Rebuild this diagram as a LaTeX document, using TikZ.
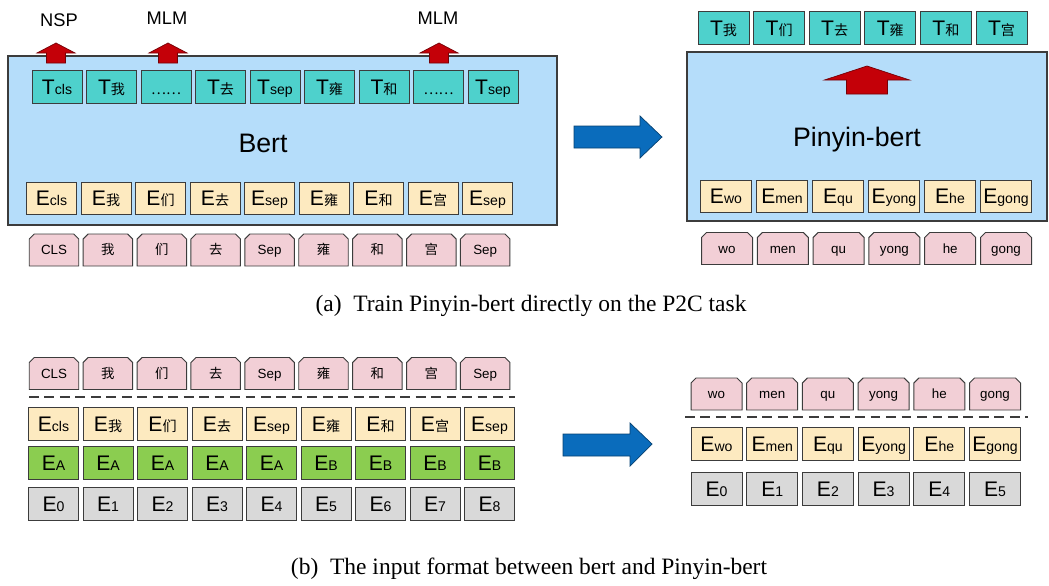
\documentclass[tikz,border=0pt]{standalone}
\usepackage{fontspec}
\setmainfont{Liberation Serif}
\setsansfont{Liberation Sans}
\newfontfamily\cjk{Noto Sans CJK SC}

\definecolor{bertblue}{RGB}{181,221,250}
\definecolor{tealcell}{RGB}{78,209,204}
\definecolor{creamcell}{RGB}{253,234,192}
\definecolor{pinkcell}{RGB}{242,207,214}
\definecolor{greencell}{RGB}{139,205,80}
\definecolor{graycell}{RGB}{217,217,217}
\definecolor{arrowred}{RGB}{196,0,8}
\definecolor{arrowblue}{RGB}{10,108,188}
\definecolor{edge}{RGB}{60,60,60}

\newcommand{\emb}[2]{{\fontsize{15}{15}\selectfont #1}{\fontsize{10}{10}\selectfont #2}}

\begin{document}
\begin{tikzpicture}[x=0.025cm, y=-0.025cm,
  cell/.style={draw=edge, line width=0.7pt, inner sep=0pt, minimum width=1.25cm, minimum height=0.8cm, font=\sffamily, text height=10.7pt, text depth=0pt},
  tcell/.style={cell, fill=tealcell, minimum height=0.825cm},
  ecell/.style={cell, fill=creamcell},
  segcell/.style={cell, fill=greencell, minimum height=0.825cm},
  poscell/.style={cell, fill=graycell, minimum height=0.825cm},
  tokcell/.style={inner sep=0pt, text height=6.5pt, text depth=0pt, font=\sffamily\fontsize{9.5}{9.5}\selectfont},
  pics/tokbox/.style={code={
    \draw[fill=pinkcell, draw=edge, line width=0.7pt] ({-#1},16) -- ({-#1},-11) -- ({-#1+5},-16) -- ({#1-5},-16) -- ({#1},-11) -- ({#1},16) -- cycle;}},
  bigbox/.style={fill=bertblue, draw=edge, line width=0.8pt},
  redarrow/.style={fill=arrowred, draw=arrowred!60!black, line width=0.5pt},
  bluearrow/.style={fill=arrowblue, draw=arrowblue!60!black, line width=0.5pt},
  split/.style={draw=edge, line width=1.4pt, dash pattern=on 7pt off 4pt},
  model/.style={font=\sffamily\fontsize{19}{19}\selectfont},
  task/.style={font=\sffamily\fontsize{13}{13}\selectfont},
  caption/.style={font=\fontsize{16.7}{16.7}\selectfont, anchor=base}]
 \useasboundingbox (0,0) rectangle (1049,585);

 % (a) bert
 \draw[bigbox] (8,56) rectangle (557,225);
 \foreach \lab [count=\i from 0] in {\emb{T}{cls}, \emb{T}{\cjk 我}, {\cjk ……}, \emb{T}{\cjk 去}, \emb{T}{sep}, \emb{T}{\cjk 雍}, \emb{T}{\cjk 和}, {\cjk ……}, \emb{T}{sep}}
  \node[tcell] (ta\i) at ({57+54.5*\i},86.5) {\lab};
 \foreach \lab [count=\i from 0] in {\emb{E}{cls}, \emb{E}{\cjk 我}, \emb{E}{\cjk 们}, \emb{E}{\cjk 去}, \emb{E}{sep}, \emb{E}{\cjk 雍}, \emb{E}{\cjk 和}, \emb{E}{\cjk 宫}, \emb{E}{sep}}
  \node[ecell] (ea\i) at ({51.5+54.5*\i},198) {\lab};
 \foreach \lab [count=\i from 0] in {CLS, {\cjk 我}, {\cjk 们}, {\cjk 去}, Sep, {\cjk 雍}, {\cjk 和}, {\cjk 宫}, Sep}{
  \pic at ({54+53.9*\i},250) {tokbox=24.75};
  \node[tokcell] (pa\i) at ({54+53.9*\i},250) {\lab};
 }
 \foreach \x in {56,168,439}
  \draw[redarrow] (\x,43) -- ({\x+19},53) -- ({\x+9.5},53) -- ({\x+9.5},63) -- ({\x-9.5},63) -- ({\x-9.5},53) -- ({\x-19},53) -- cycle;
 \node[task] (nsp) at (59,20) {NSP};
 \node[task] (mlma) at (167,18) {MLM};
 \node[task] (mlmb) at (438,18) {MLM};
 \node[model] (bert) at (263,143) {Bert};

 \draw[bluearrow] (574,126) -- (640,126) -- (640,116) -- (662,137) -- (640,158) -- (640,148) -- (574,148) -- cycle;

 % (a) pinyin-bert
 \draw[bigbox] (687,52) rectangle (1047,221);
 \foreach \lab [count=\i from 0] in {\emb{T}{\cjk 我}, \emb{T}{\cjk 们}, \emb{T}{\cjk 去}, \emb{T}{\cjk 雍}, \emb{T}{\cjk 和}, \emb{T}{\cjk 宫}}
  \node[tcell, minimum width=1.275cm] (tp\i) at ({723.5+55.6*\i},27.5) {\lab};
 \draw[redarrow] (867,66) -- (909.5,80) -- (887.5,80) -- (887.5,94) -- (846.5,94) -- (846.5,80) -- (824.5,80) -- cycle;
 \node[model] (pinyin) at (857,140) {Pinyin-bert};
 \foreach \lab [count=\i from 0] in {\emb{E}{wo}, \emb{E}{men}, \emb{E}{qu}, \emb{E}{yong}, \emb{E}{he}, \emb{E}{gong}}
  \node[ecell, minimum width=1.275cm] (ep\i) at ({726+56*\i},196) {\lab};
 \foreach \lab [count=\i from 0] in {wo, men, qu, yong, he, gong}{
  \pic at ({727+55.8*\i},248.5) {tokbox=25.5};
  \node[tokcell] (pp\i) at ({727+55.8*\i},248.5) {\lab};
 }

 \node[caption] (capa) at (531,311) {(a)\hspace{0.5em}Train Pinyin-bert directly on the P2C task};

 % (b) bert input
 \foreach \lab [count=\i from 0] in {CLS, {\cjk 我}, {\cjk 们}, {\cjk 去}, Sep, {\cjk 雍}, {\cjk 和}, {\cjk 宫}, Sep}{
  \pic at ({54+53.9*\i},373.5) {tokbox=24.75};
  \node[tokcell] (pb\i) at ({54+53.9*\i},373.5) {\lab};
 }
 \draw[split] (29,397) -- (515,397);
 \foreach \lab [count=\i from 0] in {\emb{E}{cls}, \emb{E}{\cjk 我}, \emb{E}{\cjk 们}, \emb{E}{\cjk 去}, \emb{E}{sep}, \emb{E}{\cjk 雍}, \emb{E}{\cjk 和}, \emb{E}{\cjk 宫}, \emb{E}{sep}}
  \node[ecell, minimum height=0.825cm] (eb\i) at ({53.5+54.5*\i},423.5) {\lab};
 \foreach \s [count=\i from 0] in {A,A,A,A,A,B,B,B,B}
  \node[segcell] (sb\i) at ({53.5+54.5*\i},463) {\emb{E}{\s}};
 \foreach \i in {0,...,8}
  \node[poscell] (gb\i) at ({53.5+54.5*\i},504) {\emb{E}{\i}};

 \draw[bluearrow] (563,434) -- (630,434) -- (630,423) -- (652,444) -- (630,466) -- (630,456) -- (563,456) -- cycle;

 % (b) pinyin-bert input
 \foreach \lab [count=\i from 0] in {wo, men, qu, yong, he, gong}{
  \pic at ({716.5+55.7*\i},394) {tokbox=25.5};
  \node[tokcell] (pq\i) at ({716.5+55.7*\i},394) {\lab};
 }
 \draw[split] (685,417) -- (1028,417);
 \foreach \lab [count=\i from 0] in {\emb{E}{wo}, \emb{E}{men}, \emb{E}{qu}, \emb{E}{yong}, \emb{E}{he}, \emb{E}{gong}}
  \node[ecell, minimum width=1.275cm, minimum height=0.825cm] (eq\i) at ({716.5+55.7*\i},443.5) {\lab};
 \foreach \i in {0,...,5}
  \node[poscell, minimum width=1.275cm] (gq\i) at ({716.5+55.7*\i},488.5) {\emb{E}{\i}};

 \node[caption] (capb) at (529,574) {(b)\hspace{0.5em}The input format between bert and Pinyin-bert};
\end{tikzpicture}
\end{document}
